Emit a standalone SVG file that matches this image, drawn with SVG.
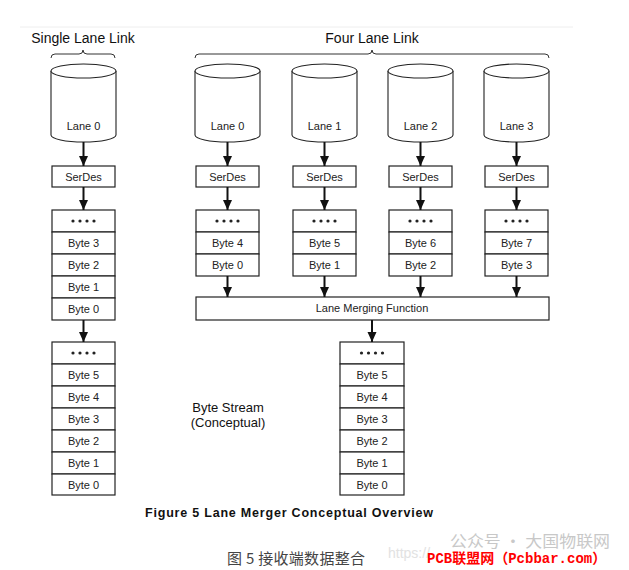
<svg xmlns="http://www.w3.org/2000/svg" width="629" height="570" viewBox="0 0 629 570">
<defs>
<marker id="ah" markerUnits="userSpaceOnUse" markerWidth="10" markerHeight="10" viewBox="0 0 10 10" refX="10" refY="5" orient="auto">
<path d="M0,0.5 L10,5 L0,9.5 Z" fill="#111"/>
</marker>
<style>
.box{fill:#fff;stroke:#222;stroke-width:1.2}
.cyl{fill:#fff;stroke:#222;stroke-width:1.1}
.t{font-family:"Liberation Sans",Arial,sans-serif;font-size:11px;fill:#222;text-anchor:middle}
.ttl{font-family:"Liberation Sans",Arial,sans-serif;font-size:14px;fill:#111;text-anchor:middle}
.br{fill:none;stroke:#333;stroke-width:1}
.ar{stroke:#111;stroke-width:2;fill:none;marker-end:url(#ah)}
.dot{fill:#222}
</style>
</defs>
<rect x="0" y="0" width="629" height="570" fill="#fff"/>
<line x1="20" y1="27" x2="573" y2="27" stroke="#eeeeee" stroke-width="1"/>

<text class="ttl" x="83" y="43">Single Lane Link</text>
<text class="ttl" x="372" y="43">Four Lane Link</text>
<path class="br" d="M51,58 Q51,54 55,54 L79,54 Q83,54 83,50 Q83,54 87,54 L111,54 Q115,54 115,58"/>
<path class="br" d="M195,58 Q195,54 199,54 L368,54 Q372,54 372,50 Q372,54 376,54 L545,54 Q549,54 549,58"/>

<g id="cyl-single">
<path class="cyl" d="M51,71 L51,135 A32.5,7 0 0 0 116,135 L116,71"/>
<ellipse class="cyl" cx="83.5" cy="71" rx="32.5" ry="7"/>
<text class="t" x="83.5" y="130">Lane 0</text>
</g>
<g id="cyl-0">
<path class="cyl" d="M195,71 L195,135 A32.5,7 0 0 0 260,135 L260,71"/>
<ellipse class="cyl" cx="227.5" cy="71" rx="32.5" ry="7"/>
<text class="t" x="227.5" y="130">Lane 0</text>
</g>
<g id="cyl-1">
<path class="cyl" d="M292,71 L292,135 A32.5,7 0 0 0 357,135 L357,71"/>
<ellipse class="cyl" cx="324.5" cy="71" rx="32.5" ry="7"/>
<text class="t" x="324.5" y="130">Lane 1</text>
</g>
<g id="cyl-2">
<path class="cyl" d="M388,71 L388,135 A32.5,7 0 0 0 453,135 L453,71"/>
<ellipse class="cyl" cx="420.5" cy="71" rx="32.5" ry="7"/>
<text class="t" x="420.5" y="130">Lane 2</text>
</g>
<g id="cyl-3">
<path class="cyl" d="M484,71 L484,135 A32.5,7 0 0 0 549,135 L549,71"/>
<ellipse class="cyl" cx="516.5" cy="71" rx="32.5" ry="7"/>
<text class="t" x="516.5" y="130">Lane 3</text>
</g>

<g id="serdes-single"><rect class="box" x="52" y="166" width="63" height="21"/><text class="t" x="83.5" y="180.5">SerDes</text></g>
<g id="serdes-0"><rect class="box" x="196" y="166" width="63" height="21"/><text class="t" x="227.5" y="180.5">SerDes</text></g>
<g id="serdes-1"><rect class="box" x="293" y="166" width="63" height="21"/><text class="t" x="324.5" y="180.5">SerDes</text></g>
<g id="serdes-2"><rect class="box" x="389" y="166" width="63" height="21"/><text class="t" x="420.5" y="180.5">SerDes</text></g>
<g id="serdes-3"><rect class="box" x="485" y="166" width="63" height="21"/><text class="t" x="516.5" y="180.5">SerDes</text></g>

<g id="stack-single">
<rect class="box" x="52" y="210" width="63" height="22"/>
<g class="dot"><circle cx="73" cy="221" r="1.6"/><circle cx="80" cy="221" r="1.6"/><circle cx="87" cy="221" r="1.6"/><circle cx="94" cy="221" r="1.6"/></g>
<rect class="box" x="52" y="232" width="63" height="22"/><text class="t" x="83.5" y="247">Byte 3</text>
<rect class="box" x="52" y="254" width="63" height="22"/><text class="t" x="83.5" y="269">Byte 2</text>
<rect class="box" x="52" y="276" width="63" height="22"/><text class="t" x="83.5" y="291">Byte 1</text>
<rect class="box" x="52" y="298" width="63" height="22"/><text class="t" x="83.5" y="313">Byte 0</text>
</g>

<g id="stack-0">
<rect class="box" x="196" y="210" width="63" height="22"/>
<g class="dot"><circle cx="217" cy="221" r="1.6"/><circle cx="224" cy="221" r="1.6"/><circle cx="231" cy="221" r="1.6"/><circle cx="238" cy="221" r="1.6"/></g>
<rect class="box" x="196" y="232" width="63" height="22"/><text class="t" x="227.5" y="247">Byte 4</text>
<rect class="box" x="196" y="254" width="63" height="22"/><text class="t" x="227.5" y="269">Byte 0</text>
</g>
<g id="stack-1">
<rect class="box" x="293" y="210" width="63" height="22"/>
<g class="dot"><circle cx="314" cy="221" r="1.6"/><circle cx="321" cy="221" r="1.6"/><circle cx="328" cy="221" r="1.6"/><circle cx="335" cy="221" r="1.6"/></g>
<rect class="box" x="293" y="232" width="63" height="22"/><text class="t" x="324.5" y="247">Byte 5</text>
<rect class="box" x="293" y="254" width="63" height="22"/><text class="t" x="324.5" y="269">Byte 1</text>
</g>
<g id="stack-2">
<rect class="box" x="389" y="210" width="63" height="22"/>
<g class="dot"><circle cx="410" cy="221" r="1.6"/><circle cx="417" cy="221" r="1.6"/><circle cx="424" cy="221" r="1.6"/><circle cx="431" cy="221" r="1.6"/></g>
<rect class="box" x="389" y="232" width="63" height="22"/><text class="t" x="420.5" y="247">Byte 6</text>
<rect class="box" x="389" y="254" width="63" height="22"/><text class="t" x="420.5" y="269">Byte 2</text>
</g>
<g id="stack-3">
<rect class="box" x="485" y="210" width="63" height="22"/>
<g class="dot"><circle cx="506" cy="221" r="1.6"/><circle cx="513" cy="221" r="1.6"/><circle cx="520" cy="221" r="1.6"/><circle cx="527" cy="221" r="1.6"/></g>
<rect class="box" x="485" y="232" width="63" height="22"/><text class="t" x="516.5" y="247">Byte 7</text>
<rect class="box" x="485" y="254" width="63" height="22"/><text class="t" x="516.5" y="269">Byte 3</text>
</g>

<g id="merge">
<rect class="box" x="196" y="297" width="353" height="23"/>
<text class="t" x="372" y="312">Lane Merging Function</text>
</g>

<g id="stream-single">
<rect class="box" x="52" y="342" width="63" height="22"/>
<g class="dot"><circle cx="73" cy="353" r="1.6"/><circle cx="80" cy="353" r="1.6"/><circle cx="87" cy="353" r="1.6"/><circle cx="94" cy="353" r="1.6"/></g>
<rect class="box" x="52" y="364" width="63" height="22"/><text class="t" x="83.5" y="379">Byte 5</text>
<rect class="box" x="52" y="386" width="63" height="22"/><text class="t" x="83.5" y="401">Byte 4</text>
<rect class="box" x="52" y="408" width="63" height="22"/><text class="t" x="83.5" y="423">Byte 3</text>
<rect class="box" x="52" y="430" width="63" height="22"/><text class="t" x="83.5" y="445">Byte 2</text>
<rect class="box" x="52" y="452" width="63" height="22"/><text class="t" x="83.5" y="467">Byte 1</text>
<rect class="box" x="52" y="474" width="63" height="21"/><text class="t" x="83.5" y="488.5">Byte 0</text>
</g>

<g id="stream-four">
<rect class="box" x="340" y="342" width="64" height="22"/>
<g class="dot"><circle cx="361.5" cy="353" r="1.6"/><circle cx="368.5" cy="353" r="1.6"/><circle cx="375.5" cy="353" r="1.6"/><circle cx="382.5" cy="353" r="1.6"/></g>
<rect class="box" x="340" y="364" width="64" height="22"/><text class="t" x="372" y="379">Byte 5</text>
<rect class="box" x="340" y="386" width="64" height="22"/><text class="t" x="372" y="401">Byte 4</text>
<rect class="box" x="340" y="408" width="64" height="22"/><text class="t" x="372" y="423">Byte 3</text>
<rect class="box" x="340" y="430" width="64" height="22"/><text class="t" x="372" y="445">Byte 2</text>
<rect class="box" x="340" y="452" width="64" height="22"/><text class="t" x="372" y="467">Byte 1</text>
<rect class="box" x="340" y="474" width="64" height="21"/><text class="t" x="372" y="488.5">Byte 0</text>
</g>

<g id="label-stream">
<text class="ttl" x="228" y="412" style="font-size:13px">Byte Stream</text>
<text class="ttl" x="228" y="427" style="font-size:13px">(Conceptual)</text>
</g>

<g id="connectors">
<line class="ar" x1="83.5" y1="142" x2="83.5" y2="166"/>
<line class="ar" x1="227.5" y1="142" x2="227.5" y2="166"/>
<line class="ar" x1="324.5" y1="142" x2="324.5" y2="166"/>
<line class="ar" x1="420.5" y1="142" x2="420.5" y2="166"/>
<line class="ar" x1="516.5" y1="142" x2="516.5" y2="166"/>
<line class="ar" x1="83.5" y1="187" x2="83.5" y2="210"/>
<line class="ar" x1="227.5" y1="187" x2="227.5" y2="210"/>
<line class="ar" x1="324.5" y1="187" x2="324.5" y2="210"/>
<line class="ar" x1="420.5" y1="187" x2="420.5" y2="210"/>
<line class="ar" x1="516.5" y1="187" x2="516.5" y2="210"/>
<line class="ar" x1="227.5" y1="276" x2="227.5" y2="297"/>
<line class="ar" x1="324.5" y1="276" x2="324.5" y2="297"/>
<line class="ar" x1="420.5" y1="276" x2="420.5" y2="297"/>
<line class="ar" x1="516.5" y1="276" x2="516.5" y2="297"/>
<line class="ar" x1="83.5" y1="320" x2="83.5" y2="342"/>
<line class="ar" x1="372" y1="320" x2="372" y2="342"/>
</g>

<text x="145" y="517" style="font-family:'Liberation Sans',Arial,sans-serif;font-size:12.5px;font-weight:bold;fill:#111" textLength="288" lengthAdjust="spacing">Figure 5 Lane Merger Conceptual Overview</text>

<text x="388" y="558" style="font-family:'Liberation Sans',Arial,sans-serif;font-size:14px;fill:#e2e2e2">https://</text>
<text x="450" y="547" style="font-family:'Noto Sans CJK SC',sans-serif;font-size:16px;fill:#c8c8c8" textLength="160" lengthAdjust="spacingAndGlyphs">公众号 · 大国物联网</text>
<text x="227" y="564" style="font-family:'Noto Sans CJK SC',sans-serif;font-size:15px;fill:#444" textLength="138" lengthAdjust="spacing">图 5 接收端数据整合</text>
<text x="427" y="563" style="font-family:'Liberation Mono','Noto Sans CJK SC',monospace;font-size:14px;font-weight:bold;fill:#ff0000">PCB联盟网（Pcbbar.com）</text>
</svg>
